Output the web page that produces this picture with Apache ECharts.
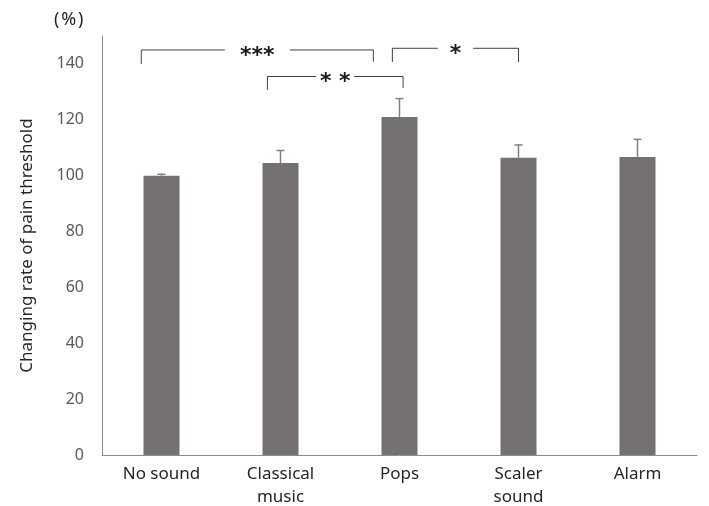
<!DOCTYPE html>
<html><head><meta charset="utf-8">
<script src="https://cdn.jsdelivr.net/npm/echarts@6/dist/echarts.min.js"></script>
<style>html,body{margin:0;padding:0;background:#fff}#c{width:709px;height:506px}</style>
</head><body><div id="c"></div>
<script>
const categories = ['No sound', 'Classical\nmusic', 'Pops', 'Scaler\nsound', 'Alarm'];
const means = [100, 104.5, 121, 106.4, 106.7];
const sds = [0.5, 4.5, 6.6, 4.6, 6.3];
const sigFrom = [0, 1, 2];
const sigTo = [2, 2, 3];
const sigLabels = ['***', '* *', '*'];

// bracket geometry (band-fraction offsets and value levels)
const brGeom = [
  {lo: -0.17, ro: -0.22, top: 145, lb: 140, rb: 140.8},
  {lo: -0.11, ro: 0.03, top: 135.5, lb: 130.7, rb: 131.4},
  {lo: -0.06, ro: 0.0, top: 145.6, lb: 140.7, rb: 140.7}
];

const chart = echarts.init(document.getElementById('c'));
const errData = categories.map((c, i) => [i, means[i], sds[i]]);
const sigData = sigFrom.map((f, i) => [f, sigTo[i], i]);

chart.setOption({
  animation: false,
  title: {text: '(\u200a%\u200a)', left: 49, top: 6, textStyle: {fontFamily: 'Noto Sans', fontSize: 18, fontWeight: 'normal', color: '#262626'}},
  grid: {left: 102, right: 12, top: 36, bottom: 51, outerBoundsMode: 'none'},
  xAxis: {
    type: 'category', data: categories,
    axisLine: {lineStyle: {color: '#8c8c8c', width: 1}},
    axisTick: {show: false},
    axisLabel: {fontFamily: 'Noto Sans', fontSize: 17, color: '#262626', margin: 8, lineHeight: 23}
  },
  yAxis: {
    type: 'value', min: 0, max: 150, interval: 20,
    name: 'Changing rate of pain threshold', nameLocation: 'middle', nameGap: 66,
    nameTextStyle: {fontFamily: 'Noto Sans', fontSize: 17, color: '#262626'},
    axisLine: {show: true, lineStyle: {color: '#8c8c8c', width: 1}},
    axisTick: {show: false},
    splitLine: {show: false},
    axisLabel: {fontFamily: 'Noto Sans', fontSize: 16, color: '#595959', margin: 18, showMaxLabel: false}
  },
  series: [
    {type: 'bar', data: means, barWidth: 36, itemStyle: {color: '#767171'}, z: 2},
    {
      type: 'custom', data: errData, z: 3,
      renderItem: function (params, api) {
        const x = api.value(0), m = api.value(1), s = api.value(2);
        const p1 = api.coord([x, m]);
        const p2 = api.coord([x, m + s]);
        const st = {stroke: '#808080', lineWidth: 1.5};
        return {type: 'group', children: [
          {type: 'line', shape: {x1: p1[0], y1: p1[1], x2: p2[0], y2: p2[1]}, style: st},
          {type: 'line', shape: {x1: p2[0] - 4, y1: p2[1], x2: p2[0] + 4, y2: p2[1]}, style: st}
        ]};
      }
    },
    {
      type: 'custom', data: sigData, z: 4,
      renderItem: function (params, api) {
        const a = api.value(0), b = api.value(1), k = api.value(2);
        const g = brGeom[k];
        const band = api.size([1, 0])[0];
        const xl = api.coord([a, 0])[0] + g.lo * band;
        const xr = api.coord([b, 0])[0] + g.ro * band;
        const yt = api.coord([0, g.top])[1];
        const ylb = api.coord([0, g.lb])[1];
        const yrb = api.coord([0, g.rb])[1];
        const w = xr - xl;
        const g1 = xl + 0.36 * w, g2 = xl + 0.64 * w, tx = xl + 0.5 * w;
        const st = {stroke: '#404040', lineWidth: 1, fill: null};
        return {type: 'group', children: [
          {type: 'polyline', shape: {points: [[xl, ylb], [xl, yt], [g1, yt]]}, style: st},
          {type: 'polyline', shape: {points: [[g2, yt], [xr, yt], [xr, yrb]]}, style: st},
          {type: 'text', style: {text: sigLabels[k], x: tx, y: yt + 6, align: 'center', verticalAlign: 'middle',
            fontFamily: 'DejaVu Sans', fontWeight: 'bold', fontSize: 22, fill: '#1a1a1a'}}
        ]};
      }
    }
  ]
});
</script></body></html>
